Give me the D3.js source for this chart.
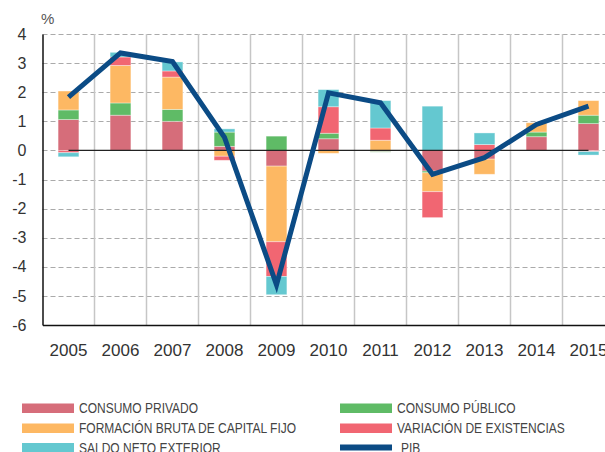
<!DOCTYPE html>
<html>
<head>
<meta charset="utf-8">
<script src="https://cdn.jsdelivr.net/npm/d3@7/dist/d3.min.js"></script>
<style>
  html, body { margin: 0; padding: 0; background: #fff; overflow: hidden; }
  #chart { width: 605px; height: 452px; }
</style>
</head>
<body>
<div id="chart"></div>
<script>
/* Contribuciones al crecimiento del PIB — stacked bars + PIB line */

// ── Data ──
var YEARS = ['2005', '2006', '2007', '2008', '2009', '2010', '2011', '2012', '2013', '2014', '2015'];
var CONSUMO_PRIVADO = [1.06, 1.21, 1.00, 0.14, -0.54, 0.40, -0.04, -0.71, -0.30, 0.47, 0.92];
var CONSUMO_PUBLICO = [0.33, 0.42, 0.41, 0.49, 0.49, 0.19, -0.02, -0.06, 0.00, 0.16, 0.29];
var FBCF = [0.65, 1.29, 1.11, -0.20, -2.60, -0.10, 0.35, -0.65, -0.52, 0.32, 0.50];
var VARIACION_EXISTENCIAS = [-0.08, 0.29, 0.21, -0.14, -1.19, 0.91, 0.42, -0.89, 0.20, 0.00, -0.04];
var SALDO_EXTERIOR = [-0.14, 0.16, 0.31, 0.11, -0.63, 0.59, 0.94, 1.52, 0.40, 0.00, -0.12];
var PIB = [1.83, 3.35, 3.05, 0.45, -4.62, 1.98, 1.64, -0.82, -0.25, 0.89, 1.52];
var Y_TICKS = [4, 3, 2, 1, 0, -1, -2, -3, -4, -5, -6];

var SERIES = [
  { key: 'privado', label: 'CONSUMO PRIVADO', values: CONSUMO_PRIVADO, color: '#d66d7a' },
  { key: 'publico', label: 'CONSUMO PÚBLICO', values: CONSUMO_PUBLICO, color: '#5fbb66' },
  { key: 'fbcf', label: 'FORMACIÓN BRUTA DE CAPITAL FIJO', values: FBCF, color: '#fdb863' },
  { key: 'variacion', label: 'VARIACIÓN DE EXISTENCIAS', values: VARIACION_EXISTENCIAS, color: '#f16672' },
  { key: 'saldo', label: 'SALDO NETO EXTERIOR', values: SALDO_EXTERIOR, color: '#64c8d0' }
];
var PIB_COLOR = '#0b4b85';

(function () {
  'use strict';

  var WIDTH = 605;
  var HEIGHT = 452;
  var PLOT = { left: 42.5, right: 614.5, top: 34, bottom: 325 };
  var FONT = 'Liberation Sans, Arial, Helvetica, sans-serif';
  var TEXT_COLOR = '#333';
  var NARROW = 0.8; // legend text is set in a condensed face

  var svg = d3.select('#chart').append('svg')
    .attr('width', WIDTH)
    .attr('height', HEIGHT);

  // ── Scales ──
  var x = d3.scaleBand().domain(YEARS).range([PLOT.left, PLOT.right]);
  var y = d3.scaleLinear().domain([-6, 4]).range([PLOT.bottom, PLOT.top]);
  var barW = x.bandwidth() * 0.4;

  // ── Grid ──
  svg.append('g').selectAll('line')
    .data(Y_TICKS.filter(function (d) { return d !== -6; }))
    .join('line')
    .attr('x1', PLOT.left).attr('x2', PLOT.right)
    .attr('y1', function (d) { return Math.round(y(d)) + 0.5; })
    .attr('y2', function (d) { return Math.round(y(d)) + 0.5; })
    .attr('stroke', '#aaa')
    .attr('stroke-width', 1.2)
    .attr('stroke-dasharray', '5,3');

  svg.append('g').selectAll('line')
    .data(YEARS.slice(1))
    .join('line')
    .attr('x1', function (d) { return x(d); })
    .attr('x2', function (d) { return x(d); })
    .attr('y1', PLOT.top).attr('y2', PLOT.bottom)
    .attr('stroke', '#c6c6c6')
    .attr('stroke-width', 1.5);

  // ── Stacked bars (diverging) ──
  var rows = YEARS.map(function (yr, i) {
    var r = { year: yr };
    SERIES.forEach(function (s) { r[s.key] = s.values[i]; });
    return r;
  });
  var stack = d3.stack()
    .keys(SERIES.map(function (s) { return s.key; }))
    .offset(d3.stackOffsetDiverging);
  var layers = stack(rows);

  svg.append('g').selectAll('g')
    .data(layers)
    .join('g')
    .attr('fill', function (d, i) { return SERIES[i].color; })
    .selectAll('rect')
    .data(function (d) { return d; })
    .join('rect')
    .attr('x', function (d) { return x(d.data.year) + (x.bandwidth() - barW) / 2; })
    .attr('width', barW)
    .attr('y', function (d) { return y(Math.max(d[0], d[1])); })
    .attr('height', function (d) { return Math.abs(y(d[0]) - y(d[1])); })
    .attr('stroke', 'rgba(255,255,255,0.45)')
    .attr('stroke-width', 0.8);

  // ── Zero line ──
  svg.append('line')
    .attr('x1', x(YEARS[0]) + x.bandwidth() / 2)
    .attr('x2', x(YEARS[YEARS.length - 1]) + x.bandwidth() / 2)
    .attr('y1', y(0)).attr('y2', y(0))
    .attr('stroke', '#222')
    .attr('stroke-width', 1.4);

  // ── PIB line ──
  var line = d3.line()
    .x(function (d, i) { return x(YEARS[i]) + x.bandwidth() / 2; })
    .y(function (d) { return y(d); });

  svg.append('path')
    .datum(PIB)
    .attr('d', line)
    .attr('fill', 'none')
    .attr('stroke', PIB_COLOR)
    .attr('stroke-width', 5)
    .attr('stroke-linejoin', 'miter')
    .attr('stroke-miterlimit', 10);

  // ── Axes ──
  var yAxis = d3.axisLeft(y).tickValues(Y_TICKS).tickSize(0).tickPadding(16)
    .tickFormat(function (d) { return d; });
  var gy = svg.append('g')
    .attr('transform', 'translate(' + PLOT.left + ',0)')
    .call(yAxis);
  gy.select('.domain').attr('stroke', '#111').attr('stroke-width', 1.5);
  gy.selectAll('text')
    .attr('font-family', FONT)
    .attr('font-size', 16)
    .attr('fill', TEXT_COLOR);

  var xAxis = d3.axisBottom(x).tickSize(0).tickPadding(19);
  var gx = svg.append('g')
    .attr('transform', 'translate(0,' + PLOT.bottom + ')')
    .call(xAxis);
  gx.select('.domain').attr('stroke', '#111').attr('stroke-width', 1.5);
  gx.selectAll('text')
    .attr('font-family', FONT)
    .attr('font-size', 17)
    .attr('fill', TEXT_COLOR);

  svg.append('text')
    .attr('x', 41).attr('y', 24)
    .attr('font-family', FONT)
    .attr('font-size', 15)
    .attr('fill', '#555')
    .text('%');

  // ── Legend ──
  var legendItems = [
    { label: SERIES[0].label, color: SERIES[0].color, col: 0, row: 0 },
    { label: SERIES[1].label, color: SERIES[1].color, col: 1, row: 0 },
    { label: SERIES[2].label, color: SERIES[2].color, col: 0, row: 1 },
    { label: SERIES[3].label, color: SERIES[3].color, col: 1, row: 1 },
    { label: SERIES[4].label, color: SERIES[4].color, col: 0, row: 2 },
    { label: 'PIB', color: PIB_COLOR, col: 1, row: 2, line: true }
  ];
  var colX = [22, 340];
  var rowY = [408, 428, 447.5];

  var leg = svg.append('g').selectAll('g')
    .data(legendItems)
    .join('g')
    .attr('transform', function (d) { return 'translate(' + colX[d.col] + ',' + rowY[d.row] + ')'; });

  leg.append('rect')
    .attr('x', 0)
    .attr('y', function (d) { return d.line ? -3 : -4.5; })
    .attr('width', 52)
    .attr('height', function (d) { return d.line ? 6 : 9.5; })
    .attr('fill', function (d) { return d.color; });

  leg.append('text')
    .attr('transform', function (d) {
      return 'translate(' + (d.line ? 61 : 57) + ',0) scale(' + NARROW + ',1)';
    })
    .attr('dy', '0.36em')
    .attr('font-family', FONT)
    .attr('font-size', 15)
    .attr('fill', '#444')
    .text(function (d) { return d.label; });
})();
</script>
</body>
</html>
